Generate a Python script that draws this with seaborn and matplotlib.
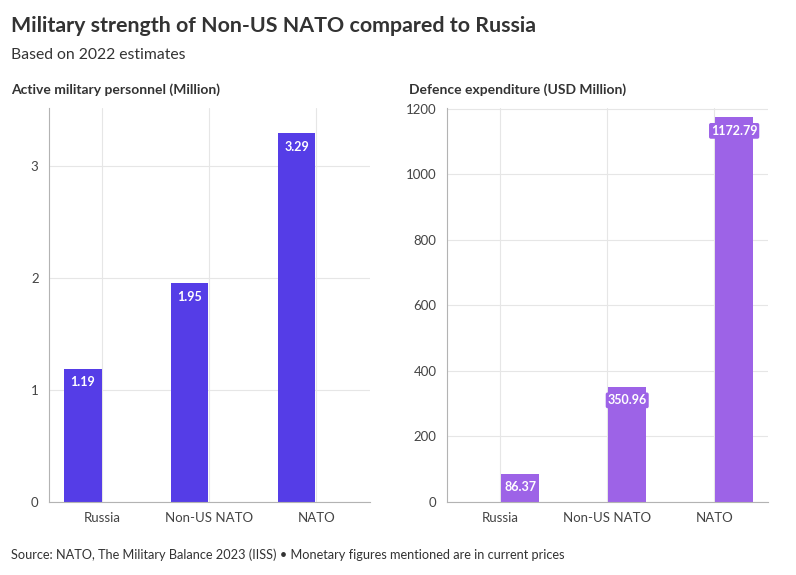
import pandas as pd
import matplotlib.pyplot as plt
import seaborn as sns

# --- Data ---
groups = ["Russia", "Non-US NATO", "NATO"]
personnel = [1.19, 1.95, 3.29]          # million
expenditure = [86.37, 350.96, 1172.79]  # USD million
series = ["Personnel", "Expenditure"]

# each panel shows one series; the other one is kept at zero so the bars stay dodged
df_pers = pd.DataFrame({"group": groups * 2,
                        "series": ["Personnel"] * 3 + ["Expenditure"] * 3,
                        "value": personnel + [0, 0, 0]})
df_exp = pd.DataFrame({"group": groups * 2,
                       "series": ["Personnel"] * 3 + ["Expenditure"] * 3,
                       "value": [0, 0, 0] + expenditure})

pers_color = "#553de7"
exp_color = "#9d63e7"

sns.set_style("white")
plt.rcParams['font.family'] = ['Lato', 'DejaVu Sans']

fig = plt.figure(figsize=(7.96, 5.75), dpi=100)
ax1 = fig.add_axes([0.0616, 0.127, 0.403, 0.686])
ax2 = fig.add_axes([0.5616, 0.127, 0.403, 0.686])

for ax, d in [(ax1, df_pers), (ax2, df_exp)]:
    sns.barplot(data=d, x="group", y="value", hue="series", hue_order=series,
                order=groups, palette=[pers_color, exp_color], width=0.74,
                gap=0.05, saturation=1, errorbar=None, legend=False, linewidth=0, ax=ax)

ax1.set_ylim(0, 3.52)
ax1.set_yticks([0, 1, 2, 3])
ax2.set_ylim(0, 1203)
ax2.set_yticks([0, 200, 400, 600, 800, 1000, 1200])

for ax, vals, col, title in [(ax1, personnel, pers_color, "Active military personnel (Million)"),
                             (ax2, expenditure, exp_color, "Defence expenditure (USD Million)")]:
    ax.set_xlim(-0.5, 2.5)
    ax.set_xlabel("")
    ax.set_ylabel("")
    ax.grid(True, color="#e6e6e6", linewidth=0.8)
    ax.set_axisbelow(True)
    for s in ["top", "right"]:
        ax.spines[s].set_visible(False)
    for s in ["left", "bottom"]:
        ax.spines[s].set_color("#b3b3b3")
        ax.spines[s].set_linewidth(0.8)
    ax.tick_params(axis="both", length=4, color="#b3b3b3", labelsize=9.5,
                   labelcolor="#444444", width=0.8)
    ax.text(-0.118, 1.046, title, transform=ax.transAxes,
            fontsize=10, fontweight="bold", color="#333333", ha="left", va="center")
    for c in ax.containers:
        if c[0].get_height() > 0:
            ax.bar_label(c, labels=[f"{v:.2f}" for v in vals], padding=-14,
                         color="white", fontsize=9, fontweight="bold",
                         bbox=dict(boxstyle="round,pad=0.15", fc=col, ec="none"))

fig.text(0.014, 0.955, "Military strength of Non-US NATO compared to Russia",
         fontsize=15.4, fontweight="bold", color="#333333", va="center")
fig.text(0.014, 0.905, "Based on 2022 estimates", fontsize=11.3, color="#333333", va="center")
fig.text(0.014, 0.035, "Source: NATO, The Military Balance 2023 (IISS) \u2022 Monetary figures mentioned are in current prices",
         fontsize=9.2, color="#333333", va="center")

plt.savefig("out.png", dpi=100)
